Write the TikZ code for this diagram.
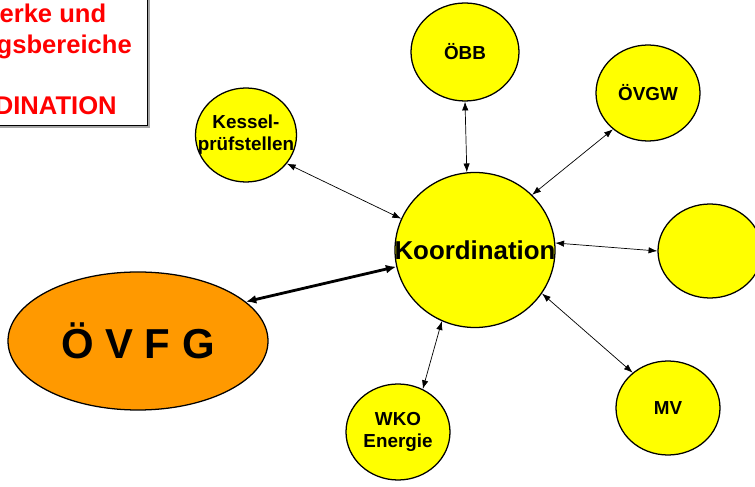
\documentclass[tikz,border=0pt]{standalone}
\usepackage{fontspec}
\setmainfont{Liberation Sans}
\usepackage{xcolor}
\usepackage{tikz}
\usetikzlibrary{shapes.geometric, arrows.meta}
\definecolor{gelb}{HTML}{FFFF00}
\definecolor{orange}{HTML}{FF9900}
\definecolor{rot}{HTML}{FF0000}

\begin{document}
\begin{tikzpicture}[
  kreis/.style={ellipse, draw, line width=0.9pt, fill=gelb, inner sep=0pt},
  schrift/.style={align=center, inner sep=0pt, font=\fontsize{13.4}{15.5}\selectfont\bfseries},
  roterText/.style={anchor=east, text=rot, font=\fontsize{18.2}{20}\selectfont\bfseries},
  pfeil/.style={{Latex[length=2.2mm,width=1.6mm]}-{Latex[length=2.2mm,width=1.6mm]}, line width=0.5pt},
  dickpfeil/.style={{Latex[length=2.6mm,width=2.2mm]}-{Latex[length=2.6mm,width=2.2mm]}, line width=2pt}]
\useasboundingbox (0, 0) rectangle (18.875, 12.15);
\clip (0, 0) rectangle (18.875, 12.15);
\draw [gray!70, line width=1.2pt] (3.725, 13) -- (3.725, 8.975) -- (-1, 8.975);
\draw [fill=white, line width=0.5pt] (-1, 9.025) rectangle (3.675, 13);
\node [roterText] (z1) at (2.78, 11.82) {werke und};
\node [roterText] (z2) at (3.42, 10.97) {gsbereiche};
\node [roterText] (z3) at (3.04, 9.5) {DINATION};
\node [kreis, minimum width=4.0cm, minimum height=3.875cm] (koord) at (11.875, 5.9) {};
\node [kreis, minimum width=2.7cm, minimum height=2.45cm] (oebb) at (11.625, 10.85) {};
\node [kreis, minimum width=2.6cm, minimum height=2.4cm] (oevgw) at (16.2, 9.825) {};
\node [kreis, minimum width=2.525cm, minimum height=2.35cm] (kessel) at (6.15, 8.775) {};
\node [kreis, minimum width=2.6cm, minimum height=2.35cm] (rechts) at (17.75, 5.875) {};
\node [kreis, minimum width=2.6cm, minimum height=2.35cm] (mv) at (16.7, 1.95) {};
\node [kreis, minimum width=2.6cm, minimum height=2.4cm] (wko) at (9.95, 1.35) {};
\node [ellipse, draw, line width=0.9pt, fill=orange, inner sep=0pt, minimum width=6.5cm, minimum height=3.45cm] (oevfg) at (3.45, 3.625) {};
\node [schrift, font=\fontsize{18.4}{20}\selectfont\bfseries] (koordtxt) at (koord) {Koordination};
\node [schrift] (oebbtxt) at (oebb) {ÖBB};
\node [schrift] (oevgwtxt) at (oevgw) {ÖVGW};
\node [schrift] (kesseltxt) at (kessel) {Kessel-\\prüfstellen};
\node [schrift] (mvtxt) at (mv) {MV};
\node [schrift] (wkotxt) at (wko) {WKO\\Energie};
\node [schrift, font=\fontsize{29.8}{32}\selectfont\bfseries] (oevfgtxt) at (oevfg) {Ö V F G};
\draw [pfeil] (oebb.270) -- (koord.96.6);
\draw [pfeil] (oevgw.226.5) -- (koord.44);
\draw [pfeil] (kessel.-35.7) -- (koord.157);
\draw [pfeil] (rechts.180) -- (koord.5);
\draw [pfeil] (mv.135) -- (koord.-33.5);
\draw [pfeil] (wko.60.6) -- (koord.245.4);
\draw [dickpfeil] (oevfg.20) -- (koord.192);
\end{tikzpicture}
\end{document}
